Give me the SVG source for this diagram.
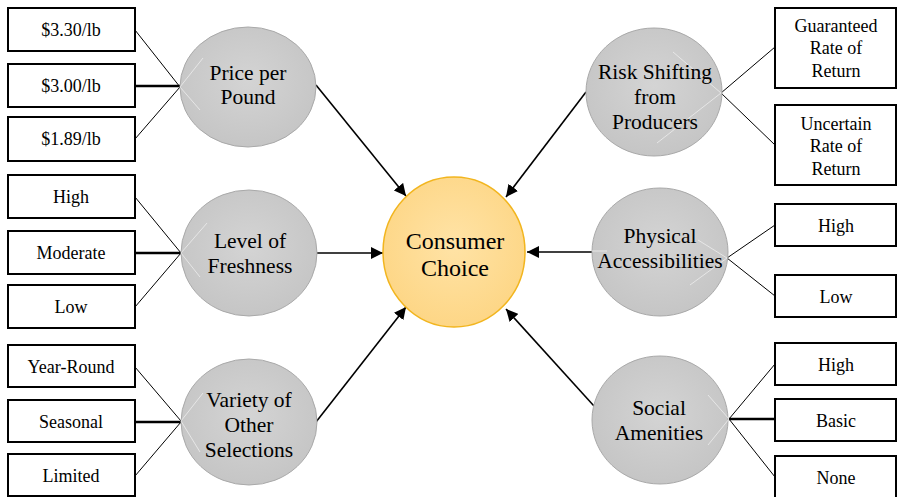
<svg xmlns="http://www.w3.org/2000/svg" width="898" height="497" viewBox="0 0 898 497">
<defs>
<radialGradient id="gg" cx="50%" cy="45%" r="60%">
<stop offset="0" stop-color="#D4D4D4"/>
<stop offset="1" stop-color="#C4C4C4"/>
</radialGradient>
<radialGradient id="og" cx="50%" cy="45%" r="60%">
<stop offset="0" stop-color="#FFE3A6"/>
<stop offset="1" stop-color="#FDD583"/>
</radialGradient>
<marker id="ah" viewBox="0 0 10 10" refX="10" refY="5" markerWidth="7" markerHeight="7" orient="auto" markerUnits="userSpaceOnUse">
<path d="M0,0 L10,5 L0,10 z" fill="#000"/>
</marker>
<marker id="ah2" viewBox="0 0 12 12" refX="12" refY="6" markerWidth="12" markerHeight="12" orient="auto" markerUnits="userSpaceOnUse">
<path d="M0,0 L12,6 L0,12 z" fill="#000"/>
</marker>
</defs>
<style>
.box{fill:#fff;stroke:#000;stroke-width:2}
.cir{fill:url(#gg);stroke:#A9A9A9;stroke-width:1}
.main{fill:url(#og);stroke:#F2B51E;stroke-width:1.5}
.t{font-family:"Liberation Serif","Times New Roman",serif;font-size:18px;fill:#000;text-anchor:middle}
.ct{font-family:"Liberation Serif","Times New Roman",serif;font-size:21.5px;fill:#000;text-anchor:middle}
.mt{font-family:"Liberation Serif","Times New Roman",serif;font-size:24px;fill:#000;text-anchor:middle}
.ln{stroke:#000;stroke-width:1;fill:none}
.lt{stroke:#000;stroke-width:2.5;fill:none}
.gh{stroke:#EDEDED;stroke-width:1;fill:none;opacity:0.8}
.ar{stroke:#000;stroke-width:1.6;fill:none;marker-end:url(#ah2)}
</style>
<g id="connectors">
<line class="ln" x1="135" y1="30" x2="180" y2="87"/>
<line class="lt" x1="135" y1="86" x2="180" y2="86"/>
<line class="ln" x1="135" y1="139" x2="180" y2="87"/>
<line class="ln" x1="135" y1="197" x2="181" y2="253"/>
<line class="lt" x1="135" y1="253" x2="181" y2="253"/>
<line class="ln" x1="135" y1="307" x2="181" y2="253"/>
<line class="ln" x1="135" y1="367" x2="181" y2="421"/>
<line class="lt" x1="135" y1="422" x2="181" y2="422"/>
<line class="ln" x1="135" y1="476" x2="181" y2="422"/>
<line class="ln" x1="721" y1="93" x2="775" y2="47"/>
<line class="ln" x1="721" y1="93" x2="775" y2="145"/>
<line class="ln" x1="727" y1="258" x2="775" y2="225"/>
<line class="ln" x1="727" y1="258" x2="775" y2="296"/>
<line class="ln" x1="729" y1="419" x2="775" y2="364"/>
<line class="lt" x1="729" y1="419" x2="775" y2="419"/>
<line class="ln" x1="729" y1="419" x2="775" y2="477"/>
<line class="ar" x1="316" y1="85" x2="406" y2="196"/>
<line class="ar" x1="317" y1="253" x2="383" y2="253"/>
<line class="ar" x1="316" y1="422" x2="406" y2="307"/>
<line class="ar" x1="586" y1="92" x2="506" y2="197"/>
<line class="ar" x1="592" y1="252" x2="527" y2="252"/>
<line class="ar" x1="594" y1="406" x2="506" y2="309"/>
</g>
<g id="main">
<ellipse class="main" cx="454" cy="252" rx="71" ry="75"/>
<text class="mt" x="455" y="249">Consumer</text>
<text class="mt" x="455" y="276">Choice</text>
</g>
<g id="price">
<ellipse class="cir" cx="248" cy="87" rx="68" ry="60"/>
<line class="gh" x1="180" y1="87" x2="203" y2="58"/>
<line class="gh" x1="180" y1="87" x2="200" y2="110"/>
<text class="ct" x="248" y="80">Price per</text>
<text class="ct" x="248" y="104">Pound</text>
</g>
<g id="fresh">
<ellipse class="cir" cx="249" cy="253" rx="68" ry="63"/>
<line class="gh" x1="181" y1="253" x2="207" y2="223"/>
<line class="gh" x1="181" y1="253" x2="200" y2="277"/>
<text class="ct" x="250" y="248">Level of</text>
<text class="ct" x="250" y="273">Freshness</text>
</g>
<g id="variety">
<ellipse class="cir" cx="249" cy="422" rx="68" ry="63"/>
<line class="gh" x1="181" y1="421" x2="203" y2="393"/>
<line class="gh" x1="181" y1="421" x2="200" y2="452"/>
<text class="ct" x="249" y="407">Variety of</text>
<text class="ct" x="249" y="432">Other</text>
<text class="ct" x="249" y="457">Selections</text>
</g>
<g id="risk">
<ellipse class="cir" cx="654" cy="92" rx="68" ry="64"/>
<line class="gh" x1="721" y1="93" x2="673" y2="52"/>
<line class="gh" x1="721" y1="93" x2="657" y2="143"/>
<text class="ct" x="655" y="79">Risk Shifting</text>
<text class="ct" x="655" y="104">from</text>
<text class="ct" x="655" y="129">Producers</text>
</g>
<g id="physical">
<ellipse class="cir" cx="660" cy="252" rx="68" ry="64"/>
<line class="gh" x1="727" y1="258" x2="698" y2="240"/>
<line class="gh" x1="727" y1="258" x2="690" y2="285"/>
<line class="gh" x1="592" y1="251" x2="607" y2="251"/>
<text class="ct" x="660" y="243">Physical</text>
<text class="ct" x="660" y="268">Accessibilities</text>
</g>
<g id="social">
<ellipse class="cir" cx="660" cy="420" rx="68" ry="64"/>
<line class="gh" x1="729" y1="419" x2="708" y2="395"/>
<line class="gh" x1="729" y1="419" x2="708" y2="445"/>
<text class="ct" x="659" y="415">Social</text>
<text class="ct" x="659" y="440">Amenities</text>
</g>
<g id="b-330"><rect class="box" x="8" y="8" width="127" height="43"/><text class="t" x="71" y="36">$3.30/lb</text></g>
<g id="b-300"><rect class="box" x="8" y="64" width="127" height="43"/><text class="t" x="71" y="92">$3.00/lb</text></g>
<g id="b-189"><rect class="box" x="8" y="117" width="127" height="44"/><text class="t" x="71" y="145">$1.89/lb</text></g>
<g id="b-fhigh"><rect class="box" x="8" y="175" width="127" height="43"/><text class="t" x="71" y="203">High</text></g>
<g id="b-fmod"><rect class="box" x="8" y="231" width="127" height="43"/><text class="t" x="71" y="259">Moderate</text></g>
<g id="b-flow"><rect class="box" x="8" y="285" width="127" height="43"/><text class="t" x="71" y="313">Low</text></g>
<g id="b-year"><rect class="box" x="8" y="345" width="127" height="42"/><text class="t" x="71" y="373">Year-Round</text></g>
<g id="b-seas"><rect class="box" x="8" y="400" width="127" height="42"/><text class="t" x="71" y="428">Seasonal</text></g>
<g id="b-lim"><rect class="box" x="8" y="454" width="127" height="42"/><text class="t" x="71" y="482">Limited</text></g>
<g id="b-guar"><rect class="box" x="775" y="8" width="121" height="80"/><text class="t" x="836" y="32">Guaranteed</text><text class="t" x="836" y="54">Rate of</text><text class="t" x="836" y="77">Return</text></g>
<g id="b-unc"><rect class="box" x="775" y="105" width="121" height="80"/><text class="t" x="836" y="130">Uncertain</text><text class="t" x="836" y="152">Rate of</text><text class="t" x="836" y="175">Return</text></g>
<g id="b-phigh"><rect class="box" x="775" y="204" width="121" height="42"/><text class="t" x="836" y="232">High</text></g>
<g id="b-plow"><rect class="box" x="775" y="275" width="121" height="42"/><text class="t" x="836" y="303">Low</text></g>
<g id="b-shigh"><rect class="box" x="775" y="343" width="121" height="42"/><text class="t" x="836" y="371">High</text></g>
<g id="b-sbasic"><rect class="box" x="775" y="399" width="121" height="42"/><text class="t" x="836" y="427">Basic</text></g>
<g id="b-snone"><rect class="box" x="775" y="456" width="121" height="42"/><text class="t" x="836" y="484">None</text></g>
</svg>
